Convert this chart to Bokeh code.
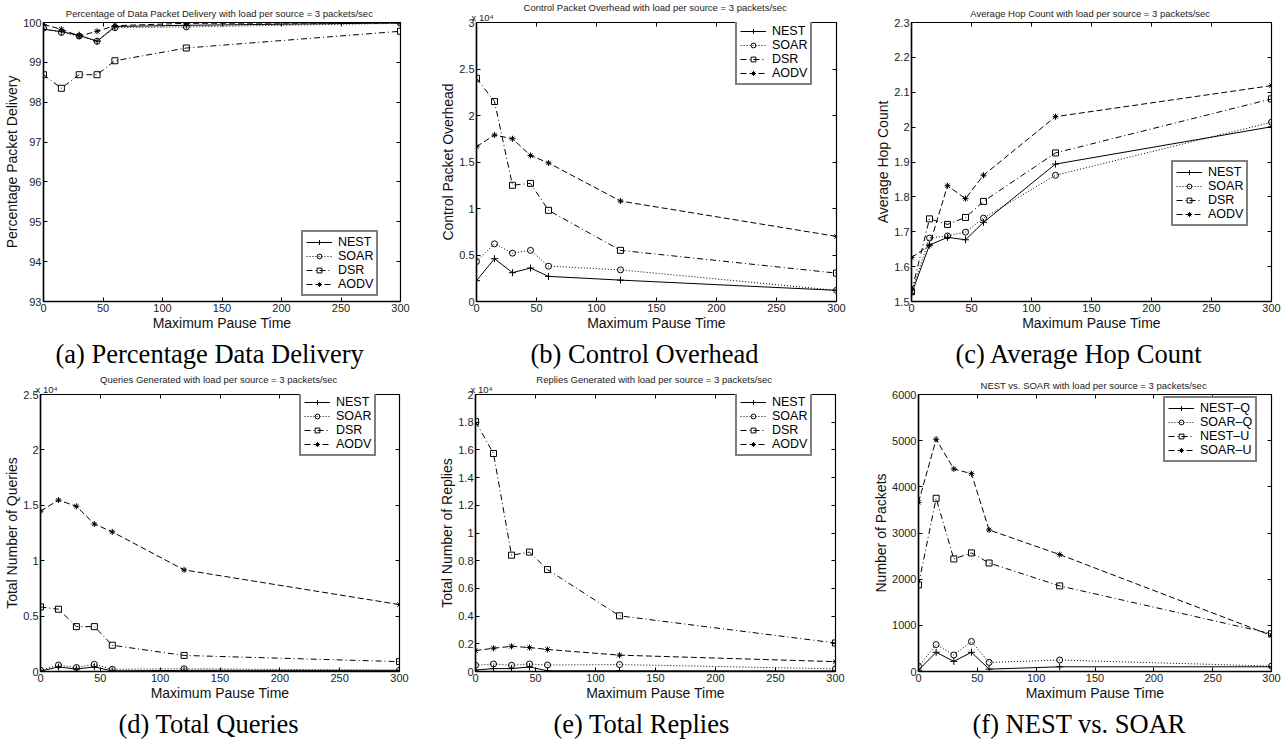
from bokeh.plotting import figure
from bokeh.models import (Range1d, FixedTicker, LinearAxis, Title,
                          CustomJSTickFormatter)
from bokeh.layouts import column, row
from bokeh.embed import file_html
from bokeh.resources import INLINE

# ---------------- data ----------------
pause = [0, 15, 30, 45, 60, 120, 300]
x_ticks = [0, 50, 100, 150, 200, 250, 300]
protocols = ["NEST", "SOAR", "DSR", "AODV"]
nest_soar_labels = ["NEST–Q", "SOAR–Q", "NEST–U", "SOAR–U"]

# (a) percentage data delivery
del_nest = [99.83, 99.77, 99.68, 99.53, 99.90, 99.93, 99.99]
del_soar = [99.86, 99.75, 99.66, 99.53, 99.87, 99.89, 99.98]
del_dsr = [98.69, 98.35, 98.69, 98.69, 99.04, 99.36, 99.78]
del_aodv = [99.95, 99.83, 99.66, 99.78, 99.92, 99.98, 99.99]
del_ticks = [93, 94, 95, 96, 97, 98, 99, 100]

# (b) control packet overhead
ovh_nest = [2240, 4600, 3100, 3600, 2700, 2300, 1200]
ovh_soar = [4300, 6200, 5200, 5500, 3800, 3400, 1200]
ovh_dsr = [24000, 21500, 12500, 12700, 9800, 5500, 3050]
ovh_aodv = [16650, 17900, 17500, 15700, 14900, 10800, 7000]
ovh_ticks = [0, 0.5, 1, 1.5, 2, 2.5, 3]

# (c) average hop count
hop_nest = [1.522, 1.662, 1.684, 1.677, 1.727, 1.894, 2.001]
hop_soar = [1.528, 1.682, 1.688, 1.699, 1.739, 1.862, 2.014]
hop_dsr = [1.528, 1.737, 1.721, 1.741, 1.787, 1.926, 2.081]
hop_aodv = [1.626, 1.661, 1.832, 1.795, 1.862, 2.030, 2.119]
hop_ticks = [1.5, 1.6, 1.7, 1.8, 1.9, 2.0, 2.1, 2.2, 2.3]

# (d) total queries
qry_nest = [30, 416, 219, 416, 51, 102, 102]
qry_soar = [110, 584, 358, 650, 197, 248, 117]
qry_dsr = [5830, 5620, 4050, 4050, 2370, 1450, 890]
qry_aodv = [14470, 15470, 14910, 13310, 12600, 9170, 6040]
qry_ticks = [0, 0.5, 1, 1.5, 2, 2.5]

# (e) total replies
rep_nest = [100, 210, 210, 330, 50, 50, 40]
rep_soar = [450, 540, 450, 540, 470, 500, 190]
rep_dsr = [18040, 15740, 8400, 8620, 7360, 4020, 2060]
rep_aodv = [1510, 1680, 1820, 1730, 1590, 1180, 710]
rep_ticks = [0, 0.2, 0.4, 0.6, 0.8, 1, 1.2, 1.4, 1.6, 1.8, 2]

# (f) NEST vs SOAR
nest_q = [30, 416, 219, 416, 51, 102, 102]
soar_q = [110, 584, 358, 650, 197, 248, 117]
nest_u = [1876, 3752, 2438, 2569, 2350, 1854, 818]
soar_u = [3664, 5029, 4387, 4285, 3066, 2533, 781]
pkt_ticks = [0, 1000, 2000, 3000, 4000, 5000, 6000]

# ---------------- styling ----------------
SANS = "Liberation Sans"
SERIF = "Liberation Serif"
STYLES = [
    dict(dash="solid", marker="cross", size=7),
    dict(dash="1 2", marker="circle", size=6),
    dict(dash="6 3 1 3", marker="square", size=6),
    dict(dash="6 3", marker="asterisk", size=6),
]
FMT = "return String(Math.round(tick*1e6)/1e6);"


def make_panel(top_title, caption, ylabel, series, labels, yrange, yticks,
               geom, legend_loc, cap_dx, scale=1.0, exp_note=False):
    W, H, bl, br, bt, bb = geom
    p = figure(width=W, height=H, min_border_left=bl, min_border_right=br,
               min_border_top=bt, min_border_bottom=bb,
               x_range=Range1d(0, 300), y_range=Range1d(*yrange),
               output_backend="svg", toolbar_location=None,
               title=caption, title_location="below")
    p.title.align = "left"
    p.title.offset = cap_dx
    p.title.text_font = SERIF
    p.title.text_font_size = "26.5px"
    p.title.text_font_style = "normal"
    p.title.text_color = "#000000"
    p.title.standoff = 7
    p.xgrid.visible = False
    p.ygrid.visible = False
    p.outline_line_color = "#000000"
    p.outline_line_width = 1.2
    p.background_fill_color = "white"
    p.border_fill_color = "white"

    for ax in (p.xaxis[0], p.yaxis[0]):
        ax.major_tick_in = 4
        ax.major_tick_out = 0
        ax.minor_tick_line_color = None
        ax.axis_line_color = "#000000"
        ax.axis_line_width = 1.5
        ax.major_tick_line_color = "#000000"
        ax.major_label_text_font = SANS
        ax.major_label_text_font_size = "11px"
        ax.major_label_text_color = "#222222"
        ax.major_label_standoff = 2
        ax.axis_label_text_font = SANS
        ax.axis_label_text_font_size = "14px"
        ax.axis_label_text_font_style = "normal"
        ax.axis_label_text_color = "#111111"
        ax.axis_label_standoff = 0
        ax.formatter = CustomJSTickFormatter(code=FMT)
    p.xaxis.ticker = FixedTicker(ticks=x_ticks)
    p.yaxis.ticker = FixedTicker(ticks=yticks)
    p.xaxis.axis_label = "Maximum Pause Time"
    p.yaxis.axis_label = ylabel

    # tick marks on top and right (MATLAB box), no labels
    for loc, ticks in (("above", x_ticks), ("right", yticks)):
        ax = LinearAxis(ticker=FixedTicker(ticks=ticks),
                        major_label_text_font_size="1px",
                        major_label_text_color=None,
                        major_label_standoff=0, major_tick_in=4,
                        major_tick_out=0, minor_tick_line_color=None,
                        axis_line_color="#000000", axis_line_width=1.0,
                        major_tick_line_color="#000000")
        p.add_layout(ax, loc)

    if exp_note:
        p.add_layout(Title(text="x 10⁴", align="left", text_font=SANS,
                           text_font_size="9.5px", text_font_style="normal",
                           text_color="#222222", standoff=0, offset=-5),
                     "above")
        main_standoff = -6
    else:
        main_standoff = 7
    p.add_layout(Title(text=top_title, align="center", text_font=SANS,
                       text_font_size="9.5px", text_font_style="normal",
                       text_color="#222222", standoff=main_standoff), "above")

    for vals, lab, st in zip(series, labels, STYLES):
        ys = [v / scale for v in vals]
        p.line(pause, ys, line_color="black", line_width=1.0,
               line_dash=st["dash"], legend_label=lab)
        p.scatter(pause, ys, marker=st["marker"], size=st["size"],
                  line_color="black", fill_color=None, line_width=1.0,
                  legend_label=lab)

    lg = p.legend[0]
    lg.location = legend_loc
    lg.label_text_font = SANS
    lg.label_text_font_size = "12.5px"
    lg.label_text_color = "#000000"
    lg.glyph_width = 26
    lg.glyph_height = 12
    lg.label_height = 12
    lg.label_standoff = 6
    lg.spacing = 0
    lg.padding = 3
    lg.margin = 0
    lg.border_line_color = "black"
    lg.border_line_width = 2
    lg.background_fill_color = "white"
    lg.background_fill_alpha = 1.0
    return p


pa = make_panel("Percentage of Data  Packet Delivery with load per source =  3 packets/sec",
                "(a) Percentage Data Delivery", "Percentage Packet Delivery",
                [del_nest, del_soar, del_dsr, del_aodv], protocols,
                (93, 100), del_ticks, (430, 372, 43, 30, 22, 70), (258, 5), 12)
pb = make_panel("Control Packet Overhead with load per source =  3 packets/sec",
                "(b) Control Overhead", "Control Packet Overhead",
                [ovh_nest, ovh_soar, ovh_dsr, ovh_aodv], protocols,
                (0, 3), ovh_ticks, (432, 372, 46, 26, 22, 70), (259, 216), 54,
                scale=1e4, exp_note=True)
pc = make_panel("Average Hop Count with load per source =  3 packets/sec",
                "(c) Average Hop Count", "Average Hop Count",
                [hop_nest, hop_soar, hop_dsr, hop_aodv], protocols,
                (1.5, 2.3), hop_ticks, (424, 372, 49, 15, 22, 70), (260, 75), 44)
pd_ = make_panel("Queries Generated with load per source =  3 packets/sec",
                 "(d) Total Queries", "Total Number of Queries",
                 [qry_nest, qry_soar, qry_dsr, qry_aodv], protocols,
                 (0, 2.5), qry_ticks, (430, 370, 40, 31, 22, 70), (259, 215), 78,
                 scale=1e4, exp_note=True)
pe = make_panel("Replies Generated with load per source =  3 packets/sec",
                "(e) Total Replies", "Total Number of Replies",
                [rep_nest, rep_soar, rep_dsr, rep_aodv], protocols,
                (0, 2), rep_ticks, (432, 370, 45, 27, 22, 70), (260, 215), 78,
                scale=1e4, exp_note=True)
pf = make_panel("NEST vs. SOAR with load per source =  3 packets/sec",
                "(f) NEST vs. SOAR", "Number of Packets",
                [nest_q, soar_q, nest_u, soar_u], nest_soar_labels,
                (0, 6000), pkt_ticks, (424, 370, 56, 15, 22, 70), (245, 209), 54)

layout = column(row(pa, pb, pc), row(pd_, pe, pf))
open("out.html", "w").write(file_html(layout, INLINE))
